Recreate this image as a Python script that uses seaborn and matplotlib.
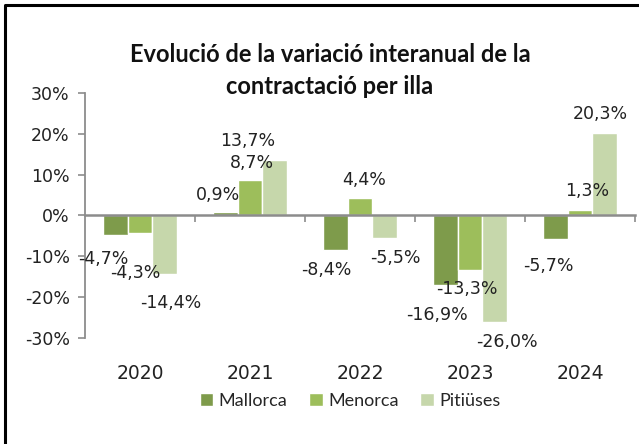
import pandas as pd
import matplotlib
matplotlib.use("Agg")
import matplotlib.pyplot as plt
from matplotlib.lines import Line2D
from matplotlib.ticker import PercentFormatter
import seaborn as sns


years = ["2020", "2021", "2022", "2023", "2024"]
islands = ["Mallorca", "Menorca", "Pitiüses"]
mallorca = [-4.7, 0.9, -8.4, -16.9, -5.7]
menorca = [-4.3, 8.7, 4.4, -13.3, 1.3]
pitiuses = [-14.4, 13.7, -5.5, -26.0, 20.3]

df = pd.DataFrame({
    "Any": years * 3,
    "Illa": [i for i in islands for _ in years],
    "Variacio": mallorca + menorca + pitiuses,
})

colors = ["#7E9B4B", "#9DBE5B", "#C6D7AB"]

# label nudges in pixels (dx, dy) per island/year, to mimic the Excel layout
label_dx = [[-12, -7, -9, -8, -7],
            [-5, 2, 4, -3, 7],
            [6, -27, 11, 12, -4]]
label_dy = [[24, 17, 20, 30, 27],
            [40, 17, 18, 19, 19],
            [29, 19, 20, 20, 19]]

sns.set_style("white")
plt.rcParams["font.family"] = ["Lato", "DejaVu Sans"]
plt.rcParams["axes.unicode_minus"] = False

fig = plt.figure(figsize=(6.39, 4.44), dpi=100)
ax = fig.add_axes([85 / 639, 1 - 338 / 444, 550 / 639, 245 / 444])

sns.barplot(data=df, x="Any", y="Variacio", hue="Illa", palette=colors,
            width=0.67, saturation=1, ax=ax, legend=True)

ax.set_ylim(-30, 30)
ax.set_xlim(-0.5, 4.5)
ax.set_yticks(range(-30, 31, 10))
ax.yaxis.set_major_formatter(PercentFormatter(decimals=0))
ax.set_xlabel("")
ax.set_ylabel("")

for s in ["top", "right"]:
    ax.spines[s].set_visible(False)
ax.spines["left"].set_color("#8C8C8C")
ax.spines["left"].set_linewidth(1.3)
ax.spines["bottom"].set_position(("data", 0))
ax.spines["bottom"].set_color("#8C8C8C")
ax.spines["bottom"].set_linewidth(1.8)

ax.tick_params(axis="y", length=5, width=1.2, color="#8C8C8C", labelsize=12.5,
               labelcolor="#222222", direction="out", left=True, pad=6)
ax.set_xticks(range(len(years)))
ax.set_xticklabels(years)
ax.set_xticks([k + 0.5 for k in range(len(years))], minor=True)
ax.tick_params(axis="x", which="major", length=0, labelsize=13.5,
               labelcolor="#222222", pad=107)
ax.tick_params(axis="x", which="minor", length=5, width=1.2, color="#8C8C8C",
               direction="out", bottom=True)
for lbl in ax.get_yticklabels() + ax.get_xticklabels():
    lbl.set_fontfamily(["DejaVu Sans"])

# data labels
for i, cont in enumerate(ax.containers):
    for j, bar in enumerate(cont):
        h = bar.get_height()
        xc = bar.get_x() + bar.get_width() / 2
        dy = label_dy[i][j] if h < 0 else -label_dy[i][j]
        ax.annotate(f"{h:.1f}%".replace(".", ","), (xc, h),
                    xytext=(label_dx[i][j], -dy), textcoords="offset pixels",
                    ha="center", va="center", fontsize=12.5,
                    color="#222222", family=["DejaVu Sans"])

# legend
handles, labels = ax.get_legend_handles_labels()
ax.get_legend().remove()
fig.legend(handles, labels, loc="center", bbox_to_anchor=(350 / 639, 1 - 401 / 444),
           ncol=3, frameon=False, fontsize=13, handlelength=0.75,
           handleheight=0.75, handletextpad=0.3, columnspacing=1.2)

# title
fig.text(330 / 639, 1 - 55 / 444, "Evolució de la variació interanual de la",
         ha="center", va="center", fontsize=17, fontweight="bold", color="#111111")
fig.text(330 / 639, 1 - 86 / 444, "contractació per illa",
         ha="center", va="center", fontsize=17, fontweight="bold", color="#111111")

# frame around the chart area
fig.add_artist(Line2D([5 / 639, 5 / 639, 1.0], [0.0, 1 - 5 / 444, 1 - 5 / 444],
                      transform=fig.transFigure, color="black", linewidth=2.2))

fig.savefig("out.png", dpi=100)
